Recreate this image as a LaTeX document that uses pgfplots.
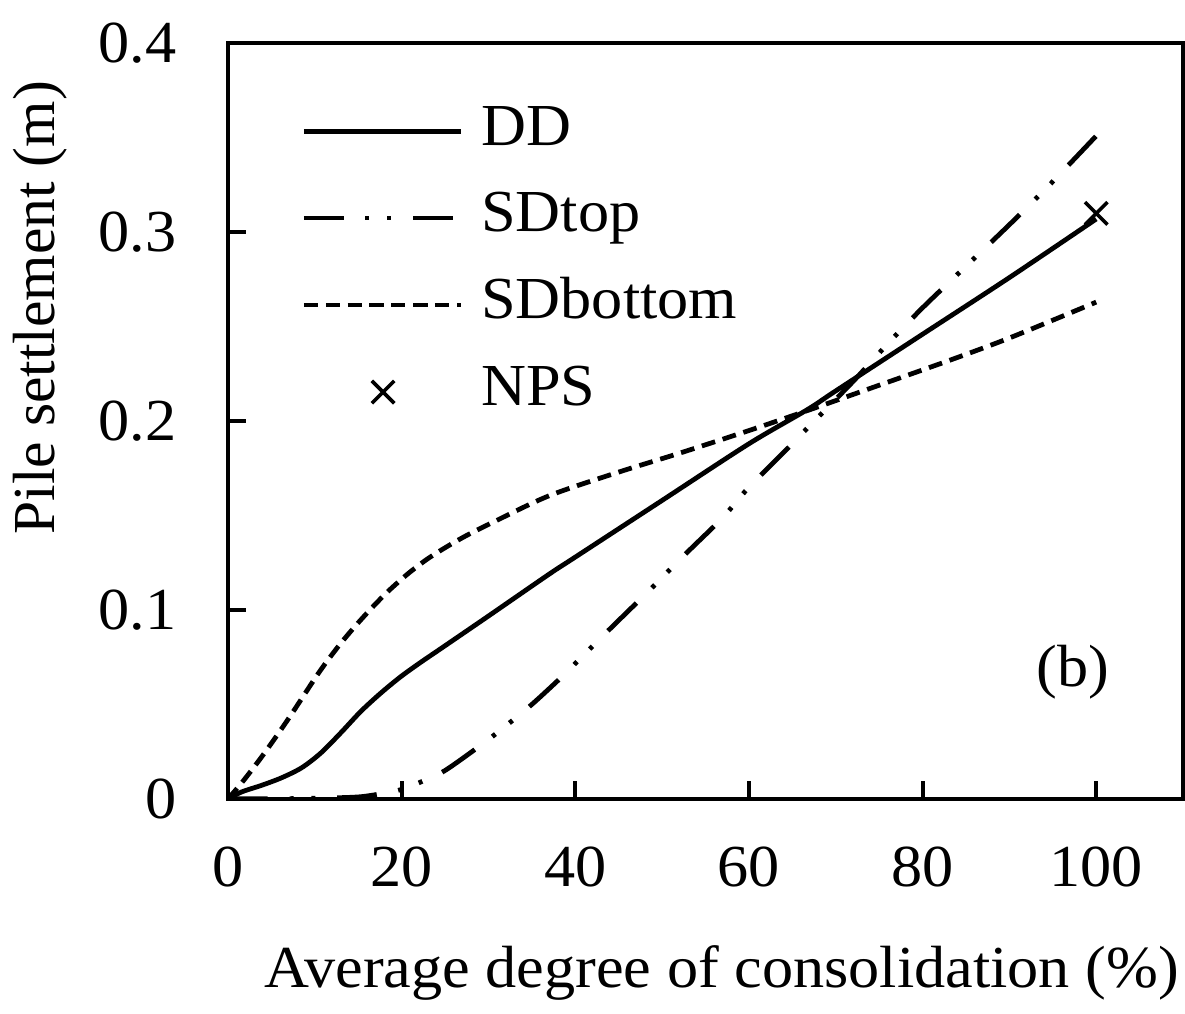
\documentclass[border=0pt]{standalone}
\usepackage{pgfplots}
\pgfplotsset{compat=1.18}
\usepackage{fontspec}
\setmainfont[FakeStretch=1.045]{Liberation Serif}
\newfontfamily\uprightlabel{Liberation Serif}

\pgfplotstableread{
x y
0 0
1.6 0.0037
3.9 0.0072
6.2 0.0112
8.5 0.0165
10.7 0.0243
13 0.035
15.3 0.0463
17.6 0.056
19.9 0.0647
22.2 0.0723
24.5 0.0795
30 0.0968
37 0.119
40 0.128
50 0.158
60 0.188
66.7 0.206
70 0.216
80 0.246
90 0.276
100 0.307
}\dd

\pgfplotstableread{
x y
0 0
5 0
10 0.0003
15 0.001
18 0.003
20 0.005
22.5 0.0095
25 0.015
29 0.028
31 0.035
35 0.050
39 0.067
40.5 0.074
44 0.090
48 0.108
53 0.131
57 0.149
60 0.165
65 0.188
67.3 0.199
72 0.221
76 0.241
80 0.260
85 0.282
90 0.304
94.4 0.324
100 0.351
}\sdtop

\pgfplotstableread{
x y
0 0
1.6 0.0086
4 0.023
6.9 0.042
10.4 0.0664
12.65 0.0804
14.55 0.0909
16.5 0.1008
18.4 0.1097
20.65 0.1189
22.9 0.1268
25.2 0.1335
27.5 0.1395
30.5 0.1464
37 0.1605
45 0.173
52 0.183
60 0.195
67 0.206
75 0.219
83 0.232
90 0.244
100 0.263
}\sdbottom

\begin{document}
\begin{tikzpicture}
\begin{axis}[
  scale only axis,
  width=240.5pt, height=190.25pt,
  xmin=0, xmax=110, ymin=0, ymax=0.4,
  xtick={0,20,40,60,80,100},
  ytick={0,0.1,0.2,0.3,0.4},
  tick align=inside, tick pos=left,
  major tick length=4.5pt,
  axis line style={line width=1pt},
  every tick/.style={black, line width=1pt},
  font=\fontsize{15}{18}\selectfont,
  /pgf/number format/assume math mode=true,
  yticklabel style={/pgf/number format/fixed, /pgf/number format/precision=1, xshift=-9.5pt},
  xticklabel style={yshift=-8.5pt},
  xlabel={Average degree of consolidation (\%)},
  ylabel={\uprightlabel Pile settlement (m)},
  xlabel style={yshift=-8pt, xshift=4pt, inner xsep=0pt},
  ylabel style={at={(ticklabel cs:0.65)}, yshift=1pt},
  legend style={draw=none, fill=none, inner sep=0pt, outer sep=0pt,
    at={(rel axis cs:0.077,0.918)}, anchor=north west,
    font=\fontsize{15}{18}\selectfont,
    nodes={inner sep=0pt, text height=10pt, text depth=3pt},
    row sep=8.9pt,
    /tikz/every odd column/.append style={column sep=4.5pt}},
  legend cell align=left,
  legend image code/.code={\draw[mark repeat=2, mark phase=2] plot coordinates {(0cm,0cm) (0.7cm,0cm) (1.39cm,0cm)};},
]
\addplot[black, line width=1.2pt, smooth, tension=0.5] table {\dd};
\addlegendentry{DD}
\addplot[black, line width=1.2pt, smooth, tension=0.5,
  dash pattern=on 10pt off 5.5pt on 1pt off 4.5pt on 1pt off 5.5pt] table {\sdtop};
\addlegendentry{SDtop}
\addplot[black, line width=1.2pt, smooth, tension=0.5,
  dash pattern=on 3.5pt off 2pt] table {\sdbottom};
\addlegendentry{SDbottom}
\addplot[only marks, mark=x, mark size=4pt, black, mark options={line width=0.9pt}] coordinates {(100,0.31)};
\addlegendentry{NPS}
\node at (axis cs:97.3,0.067) {(b)};
\end{axis}
% a little white space above the top tick label
\path ([yshift=2.5pt]current bounding box.north);
\end{tikzpicture}
\end{document}
